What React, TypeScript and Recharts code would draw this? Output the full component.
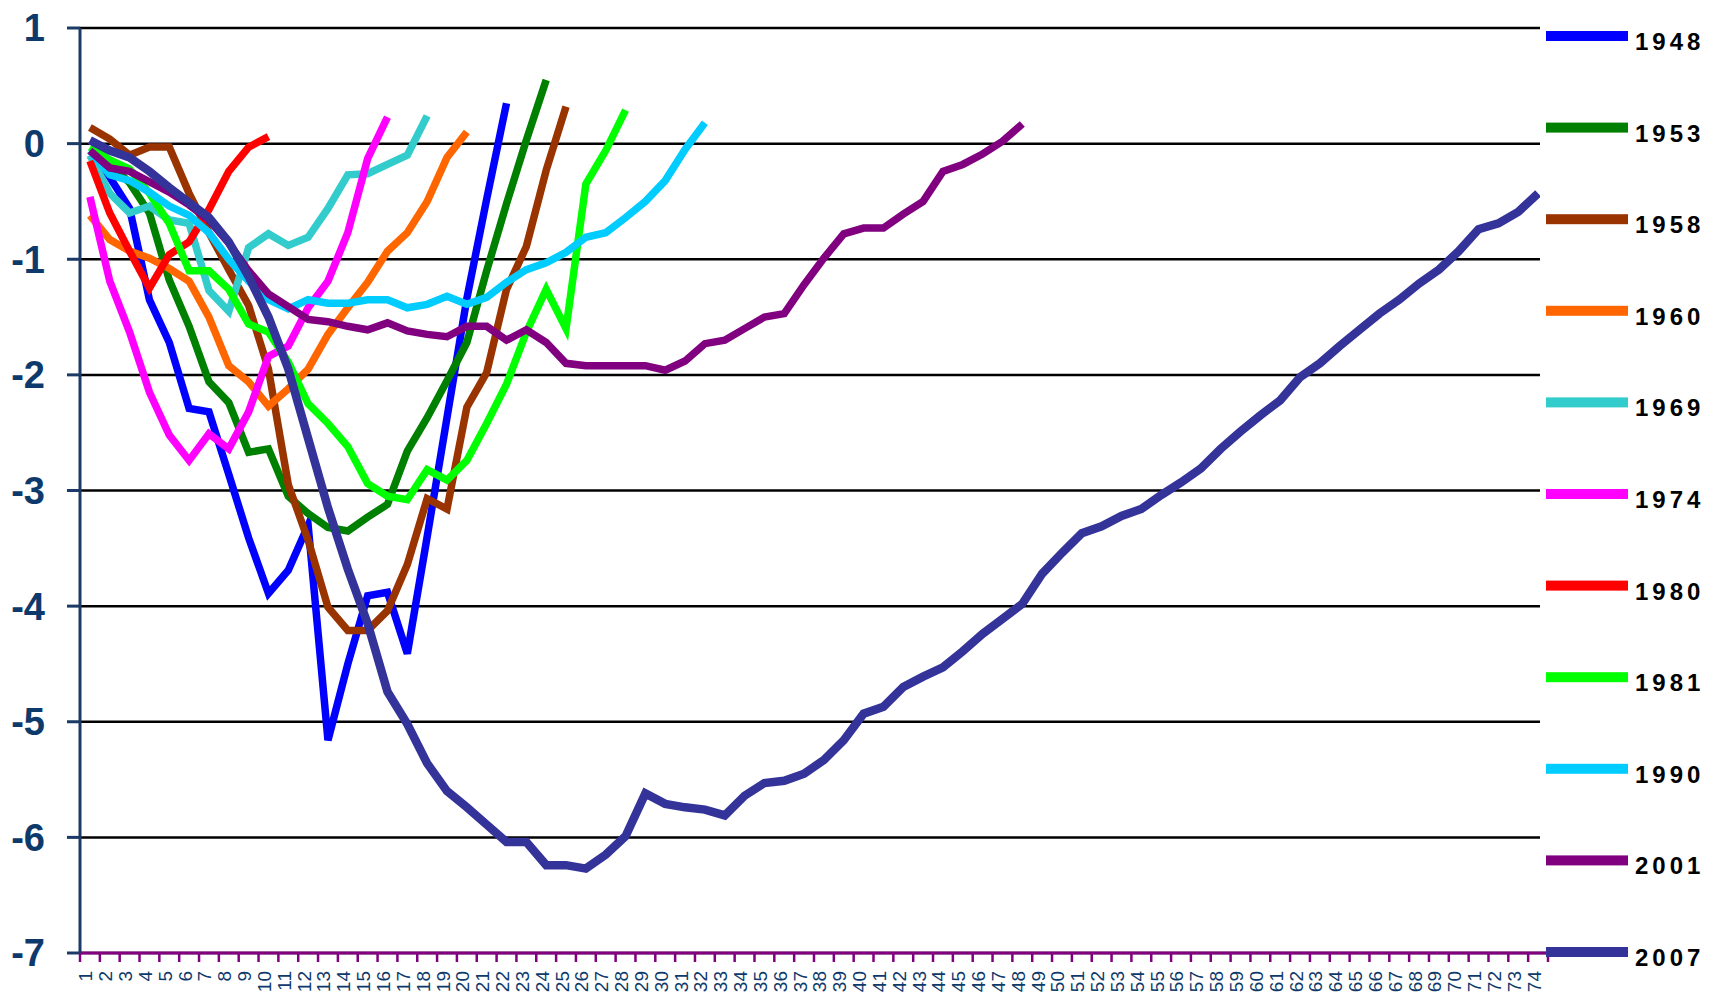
import React from 'react';
import { LineChart, Line, XAxis, YAxis, CartesianGrid, Legend } from 'recharts';

const periods = ['1','2','3','4','5','6','7','8','9','10','11','12','13','14','15','16','17','18','19','20','21','22','23','24','25','26','27','28','29','30','31','32','33','34','35','36','37','38','39','40','41','42','43','44','45','46','47','48','49','50','51','52','53','54','55','56','57','58','59','60','61','62','63','64','65','66','67','68','69','70','71','72','73','74'];

const yTicks = [1, 0, -1, -2, -3, -4, -5, -6, -7];

const years = ['1948', '1953', '1958', '1960', '1969', '1974', '1980', '1981', '1990', '2001', '2007'];
const colors = ['#0000FF', '#008000', '#993300', '#FF6600', '#33CCCC', '#FF00FF', '#FF0000', '#00FF00', '#00CCFF', '#800080', '#333399'];

const s1948 = [-0.1, -0.29, -0.56, -1.35, -1.72, -2.29, -2.32, -2.86, -3.41, -3.89, -3.69, -3.3, -5.16, -4.5, -3.91, -3.88, -4.41, -3.4, -2.37, -1.34, -0.48, 0.35];
const s1953 = [-0.06, -0.17, -0.34, -0.6, -1.18, -1.58, -2.06, -2.24, -2.67, -2.64, -3.05, -3.2, -3.32, -3.35, -3.23, -3.12, -2.66, -2.37, -2.05, -1.72, -1.1, -0.52, 0.03, 0.55];
const s1958 = [0.14, 0.04, -0.1, -0.03, -0.03, -0.43, -0.77, -1.09, -1.4, -1.95, -2.95, -3.43, -4.01, -4.21, -4.21, -4.04, -3.64, -3.07, -3.16, -2.28, -1.98, -1.26, -0.89, -0.23, 0.32];
const s1960 = [-0.62, -0.83, -0.93, -0.99, -1.08, -1.19, -1.5, -1.92, -2.06, -2.27, -2.12, -1.95, -1.65, -1.42, -1.2, -0.93, -0.77, -0.5, -0.12, 0.1];
const s1969 = [-0.1, -0.43, -0.6, -0.54, -0.66, -0.69, -1.27, -1.45, -0.9, -0.78, -0.88, -0.81, -0.56, -0.27, -0.26, -0.18, -0.1, 0.24];
const s1974 = [-0.46, -1.19, -1.63, -2.15, -2.52, -2.74, -2.51, -2.64, -2.32, -1.84, -1.75, -1.42, -1.19, -0.77, -0.13, 0.23];
const s1980 = [-0.15, -0.6, -0.93, -1.25, -0.96, -0.85, -0.57, -0.24, -0.03, 0.06];
const s1981 = [-0.03, -0.14, -0.22, -0.43, -0.69, -1.1, -1.1, -1.26, -1.56, -1.63, -1.89, -2.25, -2.42, -2.62, -2.94, -3.05, -3.08, -2.82, -2.91, -2.74, -2.42, -2.08, -1.63, -1.26, -1.6, -0.35, -0.06, 0.29];
const s1990 = [-0.06, -0.27, -0.32, -0.42, -0.54, -0.62, -0.77, -1.0, -1.19, -1.35, -1.43, -1.35, -1.38, -1.38, -1.35, -1.35, -1.42, -1.39, -1.32, -1.39, -1.33, -1.2, -1.09, -1.03, -0.94, -0.81, -0.77, -0.64, -0.5, -0.32, -0.05, 0.18];
const s2001 = [-0.06, -0.21, -0.24, -0.33, -0.42, -0.53, -0.66, -0.86, -1.1, -1.3, -1.41, -1.52, -1.54, -1.58, -1.61, -1.55, -1.62, -1.65, -1.67, -1.58, -1.58, -1.7, -1.61, -1.72, -1.9, -1.92, -1.92, -1.92, -1.92, -1.96, -1.88, -1.73, -1.7, -1.6, -1.5, -1.47, -1.22, -0.99, -0.78, -0.73, -0.73, -0.61, -0.5, -0.24, -0.18, -0.09, 0.02, 0.17];
const s2007 = [0.03, -0.06, -0.12, -0.24, -0.38, -0.51, -0.64, -0.85, -1.15, -1.5, -1.95, -2.55, -3.15, -3.68, -4.15, -4.74, -5.02, -5.36, -5.6, -5.74, -5.89, -6.04, -6.04, -6.24, -6.24, -6.27, -6.15, -5.99, -5.62, -5.71, -5.74, -5.76, -5.81, -5.64, -5.53, -5.51, -5.45, -5.33, -5.16, -4.93, -4.87, -4.7, -4.61, -4.53, -4.39, -4.24, -4.11, -3.98, -3.72, -3.54, -3.37, -3.31, -3.22, -3.16, -3.04, -2.93, -2.81, -2.64, -2.49, -2.35, -2.22, -2.02, -1.9, -1.75, -1.61, -1.47, -1.35, -1.21, -1.09, -0.93, -0.74, -0.69, -0.59, -0.43];

const seriesValues = [s1948, s1953, s1958, s1960, s1969, s1974, s1980, s1981, s1990, s2001, s2007];

const rows = periods.map((p, i) => {
  const row: Record<string, any> = { period: p };
  years.forEach((y, k) => {
    if (i < seriesValues[k].length) row['y' + y] = seriesValues[k][i];
  });
  return row;
});

const FONT = '"Liberation Sans", Arial, sans-serif';
const AXIS_BLUE = '#1B3A66';
const LABEL_BLUE = '#0E3A6B';
const PURPLE = '#800080';
const HALF = 9.92;

const XTick = (props: any) => {
  const { x, y, payload, index } = props;
  const axisY = y - 8;
  const tx = x - 4;
  const ty = axisY + 18;
  return (
    <g>
      <line x1={x - HALF} x2={x - HALF} y1={axisY} y2={axisY + 9} stroke={PURPLE} strokeWidth={2.5} />
      {index === periods.length - 1 ? (
        <line x1={x + HALF} x2={x + HALF} y1={axisY} y2={axisY + 9} stroke={PURPLE} strokeWidth={2.5} />
      ) : null}
      <text
        x={tx}
        y={ty}
        transform={`rotate(-90, ${tx}, ${ty})`}
        textAnchor="end"
        dominantBaseline="central"
        fontFamily={FONT}
        fontSize={19}
        fill={LABEL_BLUE}
      >
        {payload.value}
      </text>
    </g>
  );
};

const LegendBox = () => (
  <svg width={169} height={993} style={{ display: 'block' }}>
    <rect x={0} y={0} width={169} height={948} fill="#fff" />
    {years.map((y, k) => {
      const cy = 36 + k * 91.6;
      return (
        <g key={y}>
          <rect x={6} y={cy - 5} width={82} height={10} fill={colors[k]} />
          <text x={95} y={cy + 14} fontFamily={FONT} fontSize={24} fontWeight="bold" fill="#000" letterSpacing={4}>
            {y}
          </text>
        </g>
      );
    })}
  </svg>
);

export default function App() {
  return (
    <div style={{ position: 'absolute', left: 0, top: 0, width: 1709, height: 993, overflow: 'hidden', background: '#fff' }}>
      <LineChart width={1709} height={993} data={rows} margin={{ top: 28, right: 161, bottom: 0, left: 0 }}>
        <CartesianGrid vertical={false} stroke="#000" strokeWidth={2.5} strokeOpacity={1} />
        <XAxis
          dataKey="period"
          interval={0}
          padding={{ left: HALF, right: HALF }}
          height={40}
          tickSize={8}
          tickMargin={0}
          tickLine={false}
          axisLine={{ stroke: PURPLE, strokeWidth: 3 }}
          tick={<XTick />}
        />
        <YAxis
          type="number"
          domain={[-7, 1]}
          ticks={yTicks}
          interval={0}
          width={80}
          tickSize={13}
          tickMargin={22}
          axisLine={{ stroke: AXIS_BLUE, strokeWidth: 3 }}
          tickLine={{ stroke: AXIS_BLUE, strokeWidth: 3 }}
          tick={{ fill: LABEL_BLUE, fontSize: 38, fontWeight: 'bold', fontFamily: FONT }}
        />
        {years.map((y, k) => (
          <Line
            key={y}
            type="linear"
            dataKey={'y' + y}
            name={y}
            stroke={colors[k]}
            strokeWidth={k === years.length - 1 ? 8.5 : 7.5}
            dot={false}
            activeDot={false}
            isAnimationActive={false}
          />
        ))}
        <Legend
          layout="horizontal"
          align="center"
          verticalAlign="middle"
          wrapperStyle={{ position: 'absolute', left: 1540, top: 0, width: 169, height: 993 }}
          content={() => <LegendBox />}
        />
      </LineChart>
    </div>
  );
}
